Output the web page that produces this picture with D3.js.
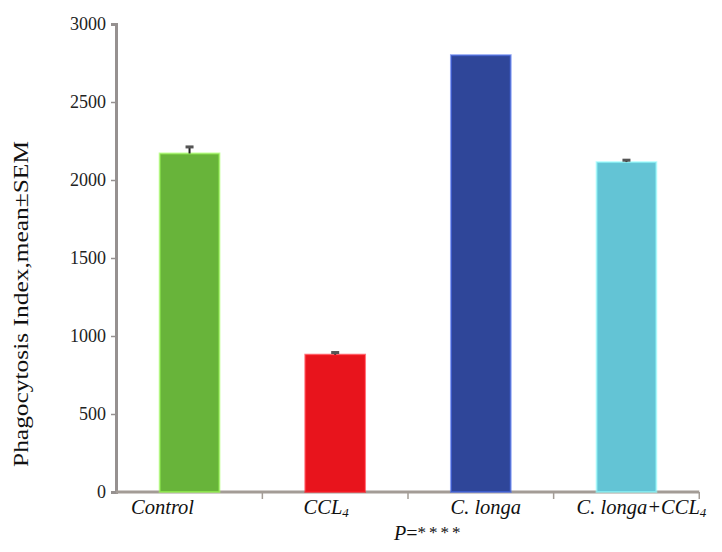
<!DOCTYPE html>
<html>
<head>
<meta charset="utf-8">
<script src="https://cdn.jsdelivr.net/npm/d3@7"></script>
<style>
  body { margin: 0; background: #fff; }
  svg text { font-family: "Liberation Serif", "Times New Roman", "DejaVu Serif", serif; }
</style>
</head>
<body>
<svg id="chart" width="722" height="552"></svg>
<script>
// data
var groups = ['Control', 'CCL4', 'C. longa', 'C. longa+CCL4'];
var means = [2170, 880, 2800, 2115];
var sems = [42, 14, 0, 12];
var barColors = ['#68b43a', '#e8141c', '#2f4699', '#63c4d5'];
var yTicks = [0, 500, 1000, 1500, 2000, 2500, 3000];
// small horizontal nudges of the category labels, as in the original
var labelShift = [-27, -9, 5, 15];

var serif = '"Liberation Serif", "Times New Roman", "DejaVu Serif", serif';
var svg = d3.select('#chart');

var x = d3.scaleBand().domain(groups).range([116, 700]).paddingInner(0.59).paddingOuter(0.3);
var y = d3.scaleLinear().domain([0, 3000]).range([492, 24]);

// y axis
var yAxis = svg.append('g')
  .attr('transform', 'translate(116,0)')
  .call(d3.axisLeft(y).tickValues(yTicks).tickSize(5).tickPadding(5).tickFormat(d3.format('d')));
yAxis.attr('font-family', serif).attr('font-size', 18);
yAxis.select('.domain').attr('stroke', '#969190').attr('stroke-width', 3);
yAxis.selectAll('.tick line').attr('stroke', '#969190').attr('stroke-width', 1.5);
yAxis.selectAll('.tick text').attr('fill', '#222');

// x axis line with ticks at band boundaries
var step = x.step();
var bounds = groups.map(function (g) { return x(g) + x.bandwidth() / 2 + step / 2; });
svg.append('line')
  .attr('x1', 116).attr('x2', bounds[bounds.length - 1])
  .attr('y1', 492).attr('y2', 492)
  .attr('stroke', '#a39c96').attr('stroke-width', 3);
svg.selectAll('.xtick')
  .data(bounds)
  .enter().append('line')
  .attr('x1', function (d) { return d; }).attr('x2', function (d) { return d; })
  .attr('y1', 492).attr('y2', 499)
  .attr('stroke', '#a39c96').attr('stroke-width', 1.5);

// bars
svg.selectAll('.bar')
  .data(means)
  .enter().append('rect')
  .attr('x', function (d, i) { return x(groups[i]); })
  .attr('y', function (d) { return y(d); })
  .attr('width', x.bandwidth())
  .attr('height', function (d) { return y(0) - y(d); })
  .attr('fill', function (d, i) { return barColors[i]; })
  .attr('stroke', function (d, i) { return d3.color(barColors[i]).brighter(1.2); })
  .attr('stroke-opacity', 0.6)
  .attr('stroke-width', 2);

// error bars
svg.selectAll('.err')
  .data(means)
  .enter().append('line')
  .attr('x1', function (d, i) { return x(groups[i]) + x.bandwidth() / 2; })
  .attr('x2', function (d, i) { return x(groups[i]) + x.bandwidth() / 2; })
  .attr('y1', function (d) { return y(d); })
  .attr('y2', function (d, i) { return y(d + sems[i]); })
  .attr('stroke', '#222').attr('stroke-width', 2);
svg.selectAll('.cap')
  .data(means)
  .enter().append('rect')
  .attr('x', function (d, i) { return x(groups[i]) + x.bandwidth() / 2 - 4; })
  .attr('y', function (d, i) { return y(d + sems[i]) - 1.5; })
  .attr('width', function (d, i) { return sems[i] ? 8 : 0; })
  .attr('height', 3)
  .attr('fill', '#555');

// x labels, italic, with subscript 4
var labelParts = [[['Control', false]], [['CCL', false], ['4', true]], [['C. longa', false]], [['C. longa+CCL', false], ['4', true]]];
labelParts.forEach(function (parts, i) {
  var t = svg.append('text')
    .attr('x', x(groups[i]) + x.bandwidth() / 2 + labelShift[i])
    .attr('y', 514)
    .attr('text-anchor', 'middle')
    .attr('font-family', serif)
    .attr('font-style', 'italic')
    .attr('font-size', 20.5)
    .attr('fill', '#111');
  parts.forEach(function (p) {
    var s = t.append('tspan').text(p[0]);
    if (p[1]) s.attr('font-size', 13).attr('dy', 3);
  });
});

svg.append('text')
  .attr('x', 394).attr('y', 540)
  .attr('font-family', serif)
  .attr('font-size', 20)
  .attr('fill', '#111')
  .html('<tspan font-style="italic">P</tspan>=<tspan font-size="17" dy="-2" letter-spacing="3">****</tspan>');

// y axis title
svg.append('text')
  .attr('transform', 'translate(28,304) rotate(-90)')
  .attr('text-anchor', 'middle')
  .attr('font-family', serif)
  .attr('font-size', 20)
  .attr('textLength', 326)
  .attr('lengthAdjust', 'spacingAndGlyphs')
  .attr('fill', '#111')
  .text('Phagocytosis Index,mean±SEM');
</script>
</body>
</html>
